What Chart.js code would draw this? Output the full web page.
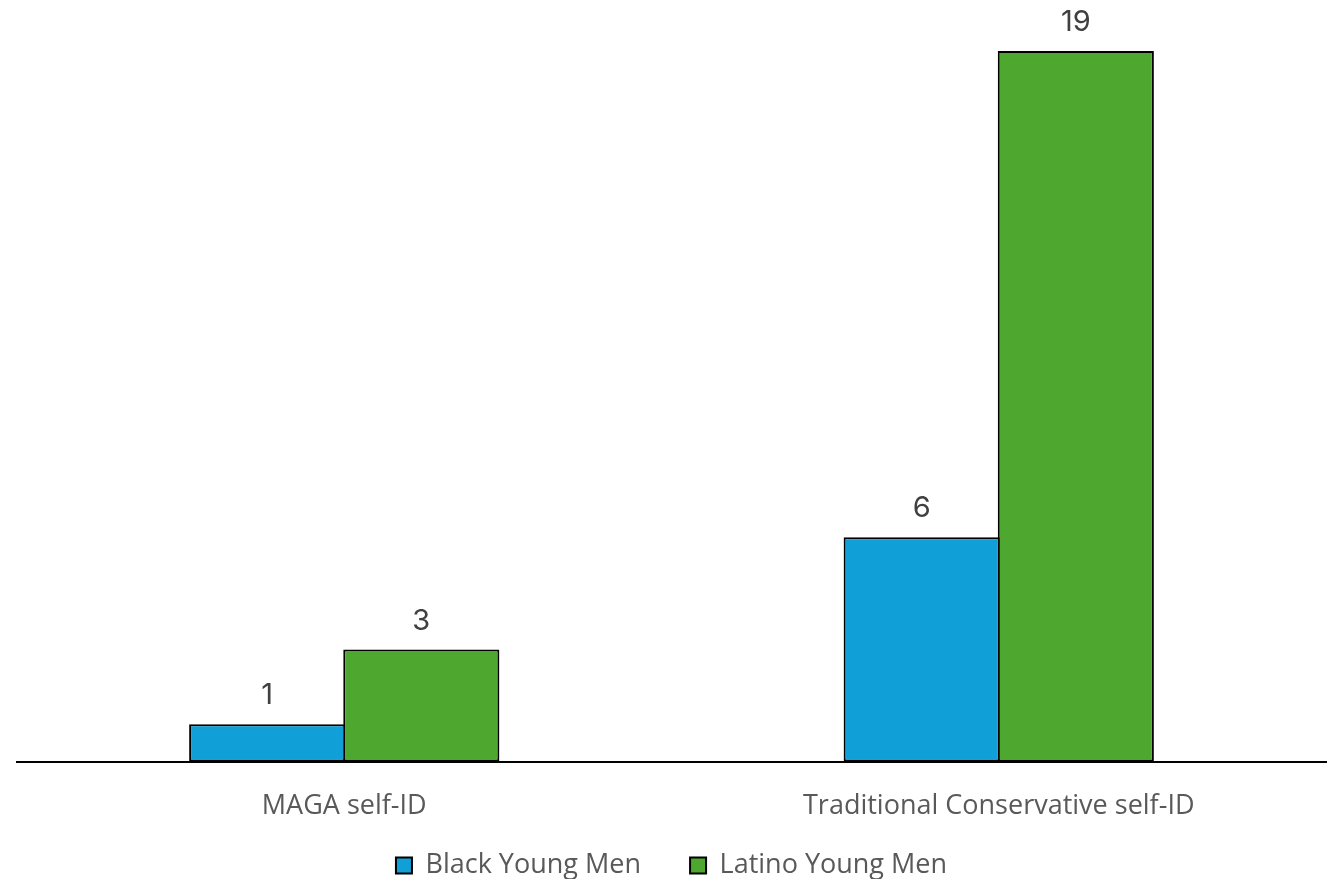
<!DOCTYPE html>
<html>
<head>
<meta charset="utf-8">
<script src="https://cdn.jsdelivr.net/npm/chart.js@4"></script>
<style>
  html, body { margin: 0; padding: 0; background: #fff; }
  #wrap { width: 1334px; height: 879px; }
</style>
</head>
<body>
<div id="wrap"><canvas id="chart"></canvas></div>
<script>
// ── Data ───────────────────────────────────────────────
const categories = ["MAGA self-ID", "Traditional Conservative self-ID"];
const blackYoungMen = [1, 6];
const latinoYoungMen = [3, 19];

const COLORS = {
  blue:  "#109fd7",
  green: "#4ea72e",
  text:  "#595959",
  label: "#404040",
};

// value labels above each bar
const barLabels = {
  id: "barLabels",
  afterDatasetsDraw(chart) {
    const { ctx } = chart;
    ctx.save();
    ctx.font = "29px Inter, sans-serif";
    ctx.fillStyle = COLORS.label;
    ctx.textAlign = "center";
    ctx.textBaseline = "bottom";
    chart.data.datasets.forEach((ds, i) => {
      chart.getDatasetMeta(i).data.forEach((bar, j) => {
        ctx.fillText(String(ds.data[j]), bar.x, bar.y - 14);
      });
    });
    ctx.restore();
  }
};

new Chart(document.getElementById("chart"), {
  type: "bar",
  data: {
    labels: categories,
    datasets: [
      { label: "Black Young Men", data: blackYoungMen, backgroundColor: COLORS.blue },
      { label: "Latino Young Men", data: latinoYoungMen, backgroundColor: COLORS.green },
    ].map(d => ({
      ...d,
      borderColor: "#000",
      borderWidth: 2,
      borderSkipped: false,
      // slight overlap so neighbouring bars share one outline
      categoryPercentage: 0.471,
      barPercentage: 1.013,
    }))
  },
  options: {
    responsive: true,
    maintainAspectRatio: false,
    animation: false,
    layout: { padding: { top: 51, left: 17, right: 8, bottom: -10 } },
    plugins: {
      tooltip: { enabled: false },
      legend: {
        position: "bottom",
        labels: {
          color: COLORS.text,
          font: { family: "'Open Sans', sans-serif", size: 27 },
          boxWidth: 16,
          boxHeight: 16,
          padding: 0,
          // trailing spaces widen the gap between the two entries
          generateLabels(chart) {
            return Chart.defaults.plugins.legend.labels.generateLabels(chart)
              .map((item, i) => ({ ...item, text: i === 0 ? item.text + "       " : item.text }));
          }
        }
      }
    },
    scales: {
      y: { display: false, min: 0, max: 19 },
      x: {
        grid: { display: false, drawTicks: false },
        border: { display: true, color: "#000", width: 2 },
        ticks: {
          color: COLORS.text,
          font: { family: "'Open Sans', sans-serif", size: 27 },
          padding: 29,
        }
      }
    }
  },
  plugins: [barLabels]
});
</script>
</body>
</html>
